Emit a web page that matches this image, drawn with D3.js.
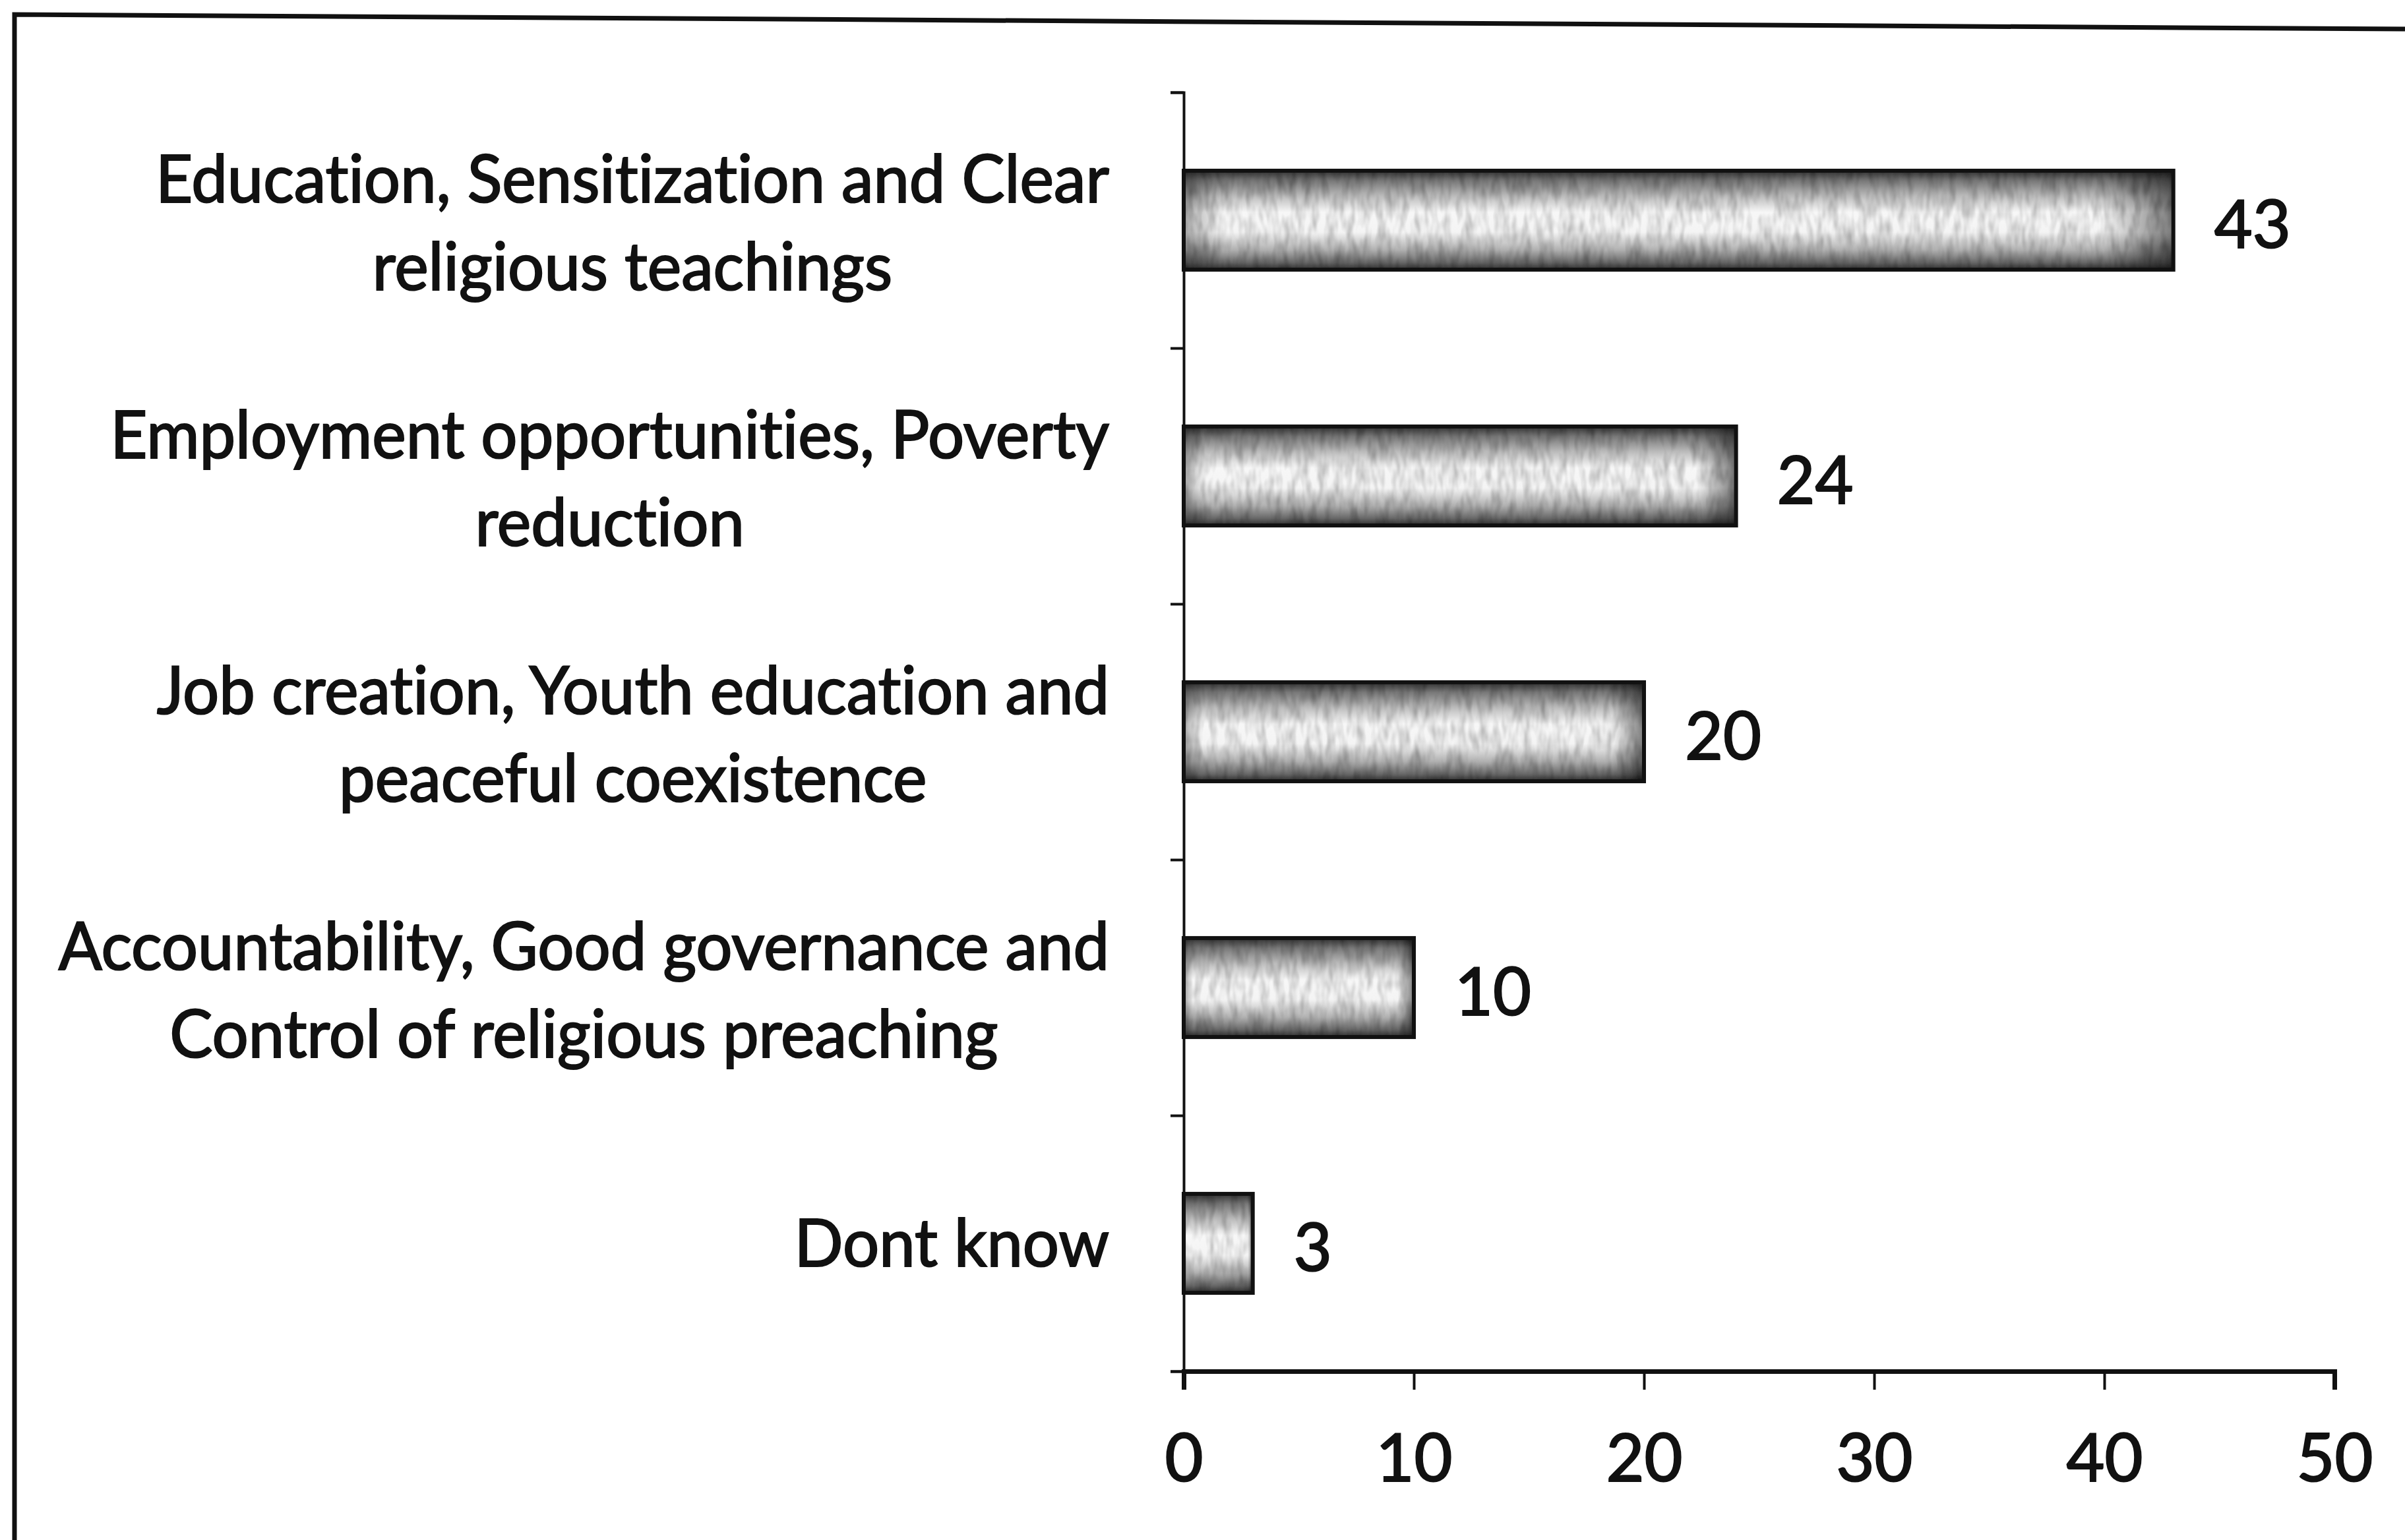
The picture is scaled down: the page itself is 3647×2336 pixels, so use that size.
<!DOCTYPE html>
<html>
<head>
<meta charset="utf-8">
<script src="https://cdn.jsdelivr.net/npm/d3@7"></script>
<style>
  html, body { margin: 0; padding: 0; background: #fff; }
  svg { display: block; }
  text {
    font-family: Lato, "Open Sans", sans-serif;
    font-variant-ligatures: none;
    font-feature-settings: "liga" 0, "clig" 0;
    fill: #111; stroke: #111; stroke-width: 2.2px; paint-order: stroke;
  }
</style>
</head>
<body>
<svg id="chart" width="3647" height="2336"></svg>
<script>
// Category labels, one array of lines per bar (top to bottom)
const categories = [
  ["Education, Sensitization and Clear", "religious teachings"],
  ["Employment opportunities, Poverty", "reduction"],
  ["Job creation, Youth education and", "peaceful coexistence"],
  ["Accountability, Good governance and", "Control of religious preaching"],
  ["Dont know"]
];
const values = [43, 24, 20, 10, 3];
const xTicks = [0, 10, 20, 30, 40, 50];

const W = 3647, H = 2336;
const margin = { left: 1795, right: W - 3540, top: 140, bottom: H - 2080 };
const fontSize = 100;
const lineGap = 133;
const labelWidthScale = 0.975;

const svg = d3.select("#chart");
const defs = svg.append("defs");

// Shaded bar fill: dark edges, bright core
const vg = defs.append("linearGradient").attr("id", "barShade")
  .attr("x1", 0).attr("y1", 0).attr("x2", 0).attr("y2", 1);
[[0, "#303030"], [0.1, "#777"], [0.26, "#bdbdbd"], [0.42, "#f7f7f7"],
 [0.62, "#f4f4f4"], [0.8, "#b0b0b0"], [0.93, "#666"], [1, "#2c2c2c"]]
  .forEach(([o, c]) => vg.append("stop").attr("offset", o).attr("stop-color", c));

const hg = defs.append("linearGradient").attr("id", "barEnd")
  .attr("x1", 0).attr("y1", 0).attr("x2", 1).attr("y2", 0);
[[0, "rgba(0,0,0,0.3)"], [0.04, "rgba(0,0,0,0)"], [0.93, "rgba(0,0,0,0)"], [1, "rgba(0,0,0,0.5)"]]
  .forEach(([o, c]) => hg.append("stop").attr("offset", o).attr("stop-color", c));

// Printed grain on the bars
const grain = defs.append("filter").attr("id", "grain")
  .attr("x", "-2%").attr("y", "-10%").attr("width", "104%").attr("height", "120%");
grain.append("feTurbulence").attr("type", "fractalNoise")
  .attr("baseFrequency", "0.09 0.03").attr("numOctaves", 2).attr("seed", 7).attr("result", "noise");
grain.append("feColorMatrix").attr("in", "noise").attr("type", "matrix")
  .attr("values", "0.9 0 0 0 0.42  0.9 0 0 0 0.42  0.9 0 0 0 0.42  0 0 0 0 1")
  .attr("result", "gnoise");
grain.append("feBlend").attr("in", "SourceGraphic").attr("in2", "gnoise").attr("mode", "multiply").attr("result", "mix");
grain.append("feComposite").attr("in", "mix").attr("in2", "SourceGraphic").attr("operator", "in");

// Frame (top and left edges of the chart area)
svg.append("path")
  .attr("d", `M22,${H} L22,22 L${W},44`)
  .attr("fill", "none").attr("stroke", "#111").attr("stroke-width", 7);

const x = d3.scaleLinear().domain([0, 50]).range([margin.left, W - margin.right]);
const y = d3.scaleBand().domain(d3.range(categories.length))
  .range([margin.top, H - margin.bottom]).paddingInner(0.613).paddingOuter(0.3065);
const yEdge = d3.scaleLinear().domain([0, categories.length]).range([margin.top, H - margin.bottom]);

// Bars
const bars = svg.append("g").attr("filter", "url(#grain)");
bars.selectAll("rect.fill").data(values).join("rect").attr("class", "fill")
  .attr("x", x(0)).attr("y", (d, i) => y(i))
  .attr("width", d => x(d) - x(0)).attr("height", y.bandwidth())
  .attr("fill", "url(#barShade)");
bars.selectAll("rect.end").data(values).join("rect").attr("class", "end")
  .attr("x", x(0)).attr("y", (d, i) => y(i))
  .attr("width", d => x(d) - x(0)).attr("height", y.bandwidth())
  .attr("fill", "url(#barEnd)");
svg.append("g").selectAll("rect").data(values).join("rect")
  .attr("x", x(0)).attr("y", (d, i) => y(i))
  .attr("width", d => x(d) - x(0)).attr("height", y.bandwidth())
  .attr("fill", "none").attr("stroke", "#111").attr("stroke-width", 6);

// Y axis: ticks sit on category boundaries
const yAxis = svg.append("g").attr("transform", `translate(${x(0)},0)`)
  .call(d3.axisLeft(yEdge).tickValues(d3.range(categories.length + 1))
    .tickFormat("").tickSize(20).tickSizeOuter(20));
yAxis.selectAll("path, line").attr("stroke", "#111").attr("stroke-width", 4);

// X axis
const xAxis = svg.append("g").attr("transform", `translate(0,${H - margin.bottom})`)
  .call(d3.axisBottom(x).tickValues(xTicks).tickSize(28).tickSizeOuter(28).tickPadding(68));
xAxis.select(".domain").attr("stroke", "#111").attr("stroke-width", 7);
xAxis.selectAll(".tick line").attr("stroke", "#111").attr("stroke-width", 4);
xAxis.selectAll("text").attr("font-size", fontSize).attr("fill", "#111")
  .style("font-family", "Lato, 'Open Sans', sans-serif");

// Category labels: lines centred in a right-aligned block
const labelRight = 1682;
const labels = svg.append("g");
categories.forEach((lines, i) => {
  const c = y(i) + y.bandwidth() / 2;
  const g = labels.append("g");
  const texts = lines.map((line, k) => g.append("text")
    .attr("font-size", fontSize)
    .attr("text-anchor", "middle")
    .attr("y", c + 35 + (k - (lines.length - 1) / 2) * lineGap + (lines.length > 1 ? 4 : 0))
    .text(line));
  const widths = texts.map(t => t.node().getComputedTextLength() * labelWidthScale);
  const maxW = d3.max(widths);
  texts.forEach((t, k) => {
    t.attr("x", labelRight - maxW / 2);
    if (labelWidthScale !== 1) t.attr("textLength", widths[k]).attr("lengthAdjust", "spacingAndGlyphs");
  });
});

// Value labels
svg.append("g").selectAll("text").data(values).join("text")
  .attr("x", d => x(d) + 62)
  .attr("y", (d, i) => y(i) + y.bandwidth() / 2 + 42)
  .attr("font-size", fontSize)
  .text(d => d);
</script>
</body>
</html>
